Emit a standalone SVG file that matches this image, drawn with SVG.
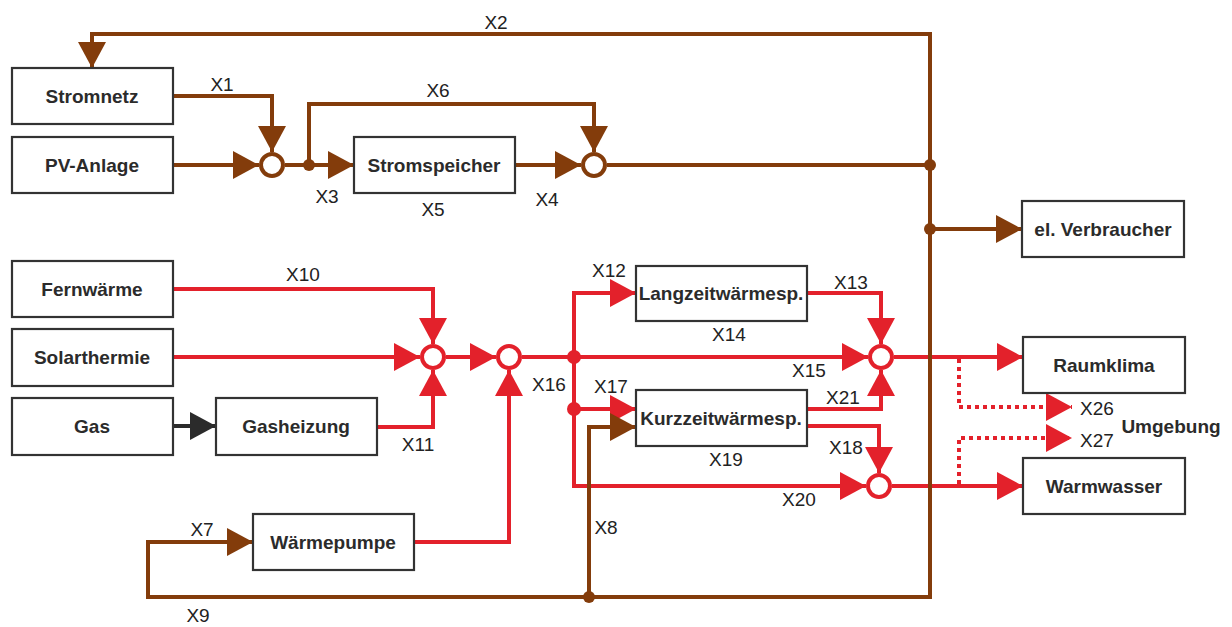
<svg xmlns="http://www.w3.org/2000/svg" width="1232" height="627" viewBox="0 0 1232 627">
<defs>
<style>
.box{fill:#fff;stroke:#333;stroke-width:2.2}
.nt{font-family:"Liberation Sans",Arial,sans-serif;font-weight:bold;font-size:19px;fill:#2b2b2b;text-anchor:middle;dominant-baseline:central}
.lb{font-family:"Liberation Sans",Arial,sans-serif;font-size:19px;fill:#222;text-anchor:middle}
.br{fill:none;stroke:#833C0B;stroke-width:4}
.rd{fill:none;stroke:#E3212B;stroke-width:4}
.dt{fill:none;stroke:#E3212B;stroke-width:4;stroke-dasharray:4 4}
.bk{fill:none;stroke:#2b2b2b;stroke-width:4}
.cb{fill:#fff;stroke:#833C0B;stroke-width:4}
.cr{fill:#fff;stroke:#E3212B;stroke-width:4}
</style>
<marker id="ab" markerUnits="userSpaceOnUse" markerWidth="26" markerHeight="28" refX="26" refY="14" orient="auto"><path d="M0,0 L26,14 L0,28 z" fill="#833C0B"/></marker>
<marker id="ar" markerUnits="userSpaceOnUse" markerWidth="26" markerHeight="28" refX="26" refY="14" orient="auto"><path d="M0,0 L26,14 L0,28 z" fill="#E3212B"/></marker>
<marker id="ak" markerUnits="userSpaceOnUse" markerWidth="26" markerHeight="28" refX="26" refY="14" orient="auto"><path d="M0,0 L26,14 L0,28 z" fill="#2b2b2b"/></marker>
</defs>
<rect width="1232" height="627" fill="#fff"/>

<g id="connectors">
<path class="rd" d="M173,289 H433 V344" marker-end="url(#ar)"/>
<path class="rd" d="M173,357 H420" marker-end="url(#ar)"/>
<path class="rd" d="M377,427 H433 V370" marker-end="url(#ar)"/>
<path class="rd" d="M446,357 H496" marker-end="url(#ar)"/>
<path class="rd" d="M414,542 H509 V370" marker-end="url(#ar)"/>
<path class="rd" d="M522,357 H868" marker-end="url(#ar)"/>
<path class="rd" d="M574,357 V293 H636" marker-end="url(#ar)"/>
<path class="rd" d="M574,357 V486 H866" marker-end="url(#ar)"/>
<path class="rd" d="M574,409 H636" marker-end="url(#ar)"/>
<path class="rd" d="M807,293 H881 V344" marker-end="url(#ar)"/>
<path class="rd" d="M807,409 H881 V370" marker-end="url(#ar)"/>
<path class="rd" d="M807,426 H879 V473" marker-end="url(#ar)"/>
<path class="rd" d="M894,357 H1023" marker-end="url(#ar)"/>
<path class="rd" d="M892,486 H1023" marker-end="url(#ar)"/>
<path class="dt" d="M959,359 V407 H1072" marker-end="url(#ar)"/>
<path class="dt" d="M959,484 V438 H1072" marker-end="url(#ar)"/>
<circle cx="574" cy="357" r="7" fill="#E3212B"/>
<circle cx="574" cy="409" r="7" fill="#E3212B"/>
<path class="bk" d="M173,426 H216" marker-end="url(#ak)"/>
<path class="br" d="M930,165 V34 H92 V68" marker-end="url(#ab)"/>
<path class="br" d="M930,165 V597 H148 V542 H253" marker-end="url(#ab)"/>
<path class="br" d="M589,597 V427 H636" marker-end="url(#ab)"/>
<path class="br" d="M173,96 H272 V152" marker-end="url(#ab)"/>
<path class="br" d="M173,165 H259" marker-end="url(#ab)"/>
<path class="br" d="M285,165 H354" marker-end="url(#ab)"/>
<path class="br" d="M309,165 V104 H594 V152" marker-end="url(#ab)"/>
<path class="br" d="M515,165 H581" marker-end="url(#ab)"/>
<path class="br" d="M607,165 H930"/>
<path class="br" d="M930,229 H1022" marker-end="url(#ab)"/>
<circle cx="309" cy="165" r="6" fill="#833C0B"/>
<circle cx="930" cy="165" r="6" fill="#833C0B"/>
<circle cx="930" cy="229" r="6" fill="#833C0B"/>
<circle cx="589" cy="597" r="6" fill="#833C0B"/>
<circle class="cb" cx="272" cy="165" r="11"/>
<circle class="cb" cx="594" cy="165" r="11"/>
<circle class="cr" cx="433" cy="357" r="11"/>
<circle class="cr" cx="509" cy="357" r="11"/>
<circle class="cr" cx="881" cy="357" r="11"/>
<circle class="cr" cx="879" cy="486" r="11"/>
<text class="lb" x="496" y="29">X2</text>
<text class="lb" x="222" y="91">X1</text>
<text class="lb" x="438" y="97">X6</text>
<text class="lb" x="327" y="203">X3</text>
<text class="lb" x="433" y="216">X5</text>
<text class="lb" x="547" y="206">X4</text>
<text class="lb" x="303" y="281">X10</text>
<text class="lb" x="418" y="451">X11</text>
<text class="lb" x="202" y="536">X7</text>
<text class="lb" x="198" y="622">X9</text>
<text class="lb" x="606" y="534">X8</text>
<text class="lb" x="549" y="391">X16</text>
<text class="lb" x="609" y="277">X12</text>
<text class="lb" x="851" y="289">X13</text>
<text class="lb" x="729" y="341">X14</text>
<text class="lb" x="809" y="377">X15</text>
<text class="lb" x="611" y="393">X17</text>
<text class="lb" x="843" y="404">X21</text>
<text class="lb" x="846" y="454">X18</text>
<text class="lb" x="726" y="466">X19</text>
<text class="lb" x="799" y="506">X20</text>
<text class="lb" x="1097" y="415">X26</text>
<text class="lb" x="1097" y="447">X27</text>
</g>

<g id="n-stromnetz"><rect class="box" x="12" y="68" width="161" height="56"/><text class="nt" x="92" y="96">Stromnetz</text></g>
<g id="n-pv"><rect class="box" x="12" y="137" width="161" height="56"/><text class="nt" x="92" y="165">PV-Anlage</text></g>
<g id="n-stromspeicher"><rect class="box" x="354" y="137" width="161" height="56"/><text class="nt" x="434" y="165">Stromspeicher</text></g>
<g id="n-verbraucher"><rect class="box" x="1022" y="201" width="162" height="56"/><text class="nt" x="1103" y="229">el. Verbraucher</text></g>
<g id="n-fernwaerme"><rect class="box" x="12" y="261" width="161" height="56"/><text class="nt" x="92" y="289">Fernwärme</text></g>
<g id="n-solar"><rect class="box" x="12" y="329" width="161" height="57"/><text class="nt" x="92" y="357">Solarthermie</text></g>
<g id="n-gas"><rect class="box" x="12" y="398" width="161" height="57"/><text class="nt" x="92" y="426">Gas</text></g>
<g id="n-gasheizung"><rect class="box" x="216" y="398" width="161" height="57"/><text class="nt" x="296" y="426">Gasheizung</text></g>
<g id="n-waermepumpe"><rect class="box" x="253" y="514" width="161" height="56"/><text class="nt" x="333" y="542">Wärmepumpe</text></g>
<g id="n-langzeit"><rect class="box" x="636" y="266" width="171" height="55"/><text class="nt" x="721" y="293">Langzeitwärmesp.</text></g>
<g id="n-kurzzeit"><rect class="box" x="636" y="390" width="171" height="56"/><text class="nt" x="721" y="418">Kurzzeitwärmesp.</text></g>
<g id="n-raumklima"><rect class="box" x="1023" y="337" width="162" height="56"/><text class="nt" x="1104" y="365">Raumklima</text></g>
<g id="n-warmwasser"><rect class="box" x="1023" y="458" width="162" height="56"/><text class="nt" x="1104" y="486">Warmwasser</text></g>
<g id="n-umgebung"><text class="nt" x="1171" y="426">Umgebung</text></g>
</svg>
